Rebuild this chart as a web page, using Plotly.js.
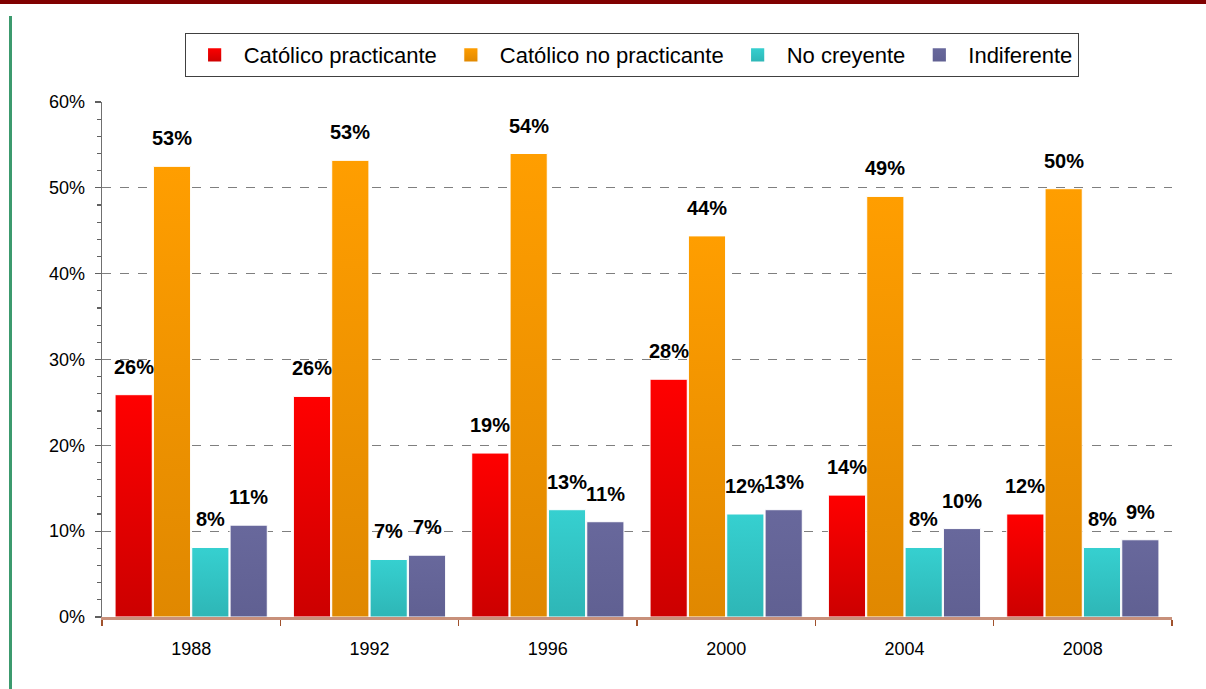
<!DOCTYPE html>
<html>
<head>
<meta charset="utf-8">
<script src="https://cdn.plot.ly/plotly-3.0.1.min.js"></script>
<style>
  html, body { margin: 0; padding: 0; background: #fff; }
  #chart { width: 1206px; height: 689px; }
  #topband { position: absolute; left: 0; top: 0; width: 1206px; height: 4px; background: #800000; z-index: 5; }
  #leftline { position: absolute; left: 9px; top: 16px; width: 3px; height: 673px; background: #3c9a6e; z-index: 5; }
</style>
</head>
<body>
<div id="topband"></div>
<div id="leftline"></div>
<div id="chart"></div>
<script>
// ---- data ----
const years = ['1988', '1992', '1996', '2000', '2004', '2008'];
const seriesNames = ['Católico practicante', 'Católico no practicante', 'No creyente', 'Indiferente'];
const catolicoPracticante   = [25.9, 25.7, 19.1, 27.7, 14.2, 12.0];
const catolicoNoPracticante = [52.5, 53.2, 54.0, 44.4, 49.0, 49.9];
const noCreyente            = [8.1, 6.7, 12.5, 12.0, 8.1, 8.1];
const indiferente           = [10.7, 7.2, 11.1, 12.5, 10.3, 9.0];
const yTickVals = [0, 10, 20, 30, 40, 50, 60];

const seriesValues = [catolicoPracticante, catolicoNoPracticante, noCreyente, indiferente];
const seriesColors = ['#e60000', '#f29200', '#33c6c6', '#65659a'];
// vertical gradient stops (top, bottom) for each series
const gradTop    = ['#ff0000', '#ff9e00', '#36d0d0', '#68689c'];
const gradBottom = ['#cc0000', '#e08800', '#2eb6b6', '#606092'];

// ---- layout constants ----
const W = 1206, H = 689;
const M = {l: 102, r: 34, t: 102, b: 72};
const bargap = 0.14, bargroupgap = 0.03;
const plotW = W - M.l - M.r;
const groupW = plotW / years.length;
const slotW = groupW * (1 - bargap) / seriesValues.length;

const traces = seriesValues.map((vals, i) => ({
  type: 'bar',
  name: seriesNames[i],
  x: years,
  y: vals,
  marker: {color: seriesColors[i], line: {color: '#ffffff', width: 1}},
  hoverinfo: 'x+y+name'
}));

const annotations = [];
seriesValues.forEach((vals, i) => {
  vals.forEach((v, j) => {
    annotations.push({
      x: j, y: v, xref: 'x', yref: 'y',
      text: Math.round(v) + '%',
      showarrow: false,
      xanchor: 'center', yanchor: 'middle',
      xshift: (i - (seriesValues.length - 1) / 2) * slotW,
      yshift: 28,
      font: {family: 'Liberation Sans, Arial, sans-serif', size: 20, color: '#000', weight: 'bold'}
    });
  });
});

const layout = {
  width: W, height: H,
  margin: M,
  paper_bgcolor: '#ffffff',
  plot_bgcolor: '#ffffff',
  barmode: 'group',
  bargap: bargap,
  bargroupgap: bargroupgap,
  font: {family: 'Liberation Sans, Arial, sans-serif', size: 18, color: '#000'},
  showlegend: true,
  legend: {
    orientation: 'h',
    x: 0.495, xanchor: 'center',
    y: 1.134, yanchor: 'top',
    bordercolor: '#404040', borderwidth: 1,
    bgcolor: '#ffffff',
    itemwidth: 48,
    font: {size: 22, color: '#000'},
    traceorder: 'normal'
  },
  xaxis: {
    type: 'category',
    categoryorder: 'array', categoryarray: years,
    range: [-0.5, years.length - 0.5],
    autorange: false,
    showline: true, linecolor: '#c8907a', linewidth: 2.5,
    ticks: 'outside', tickson: 'boundaries', ticklen: 6, tickcolor: '#a0522d', tickwidth: 1.5,
    ticklabelstandoff: 14,
    tickangle: 0,
    showgrid: false,
    tickfont: {size: 18, color: '#000'}
  },
  yaxis: {
    range: [0, 60],
    autorange: false,
    tickmode: 'array',
    tickvals: yTickVals,
    ticktext: yTickVals.map(v => v + '%'),
    showline: true, linecolor: '#707070', linewidth: 1.3,
    ticks: 'outside', ticklen: 6, tickcolor: '#606060', tickwidth: 1.3,
    ticklabelstandoff: 6,
    showgrid: true, gridcolor: '#7f7f7f', gridwidth: 1.3, griddash: 'dash',
    zeroline: false,
    minor: {tickmode: 'linear', tick0: 0, dtick: 2, ticks: 'outside', ticklen: 4, tickcolor: '#606060', tickwidth: 1.3, showgrid: false},
    tickfont: {size: 18, color: '#000'}
  },
  annotations: annotations
};

function applyGradients(gd) {
  const svg = gd.querySelector('svg.main-svg');
  if (!svg) return;
  const NS = 'http://www.w3.org/2000/svg';
  let defs = svg.querySelector('defs');
  if (!defs) { defs = document.createElementNS(NS, 'defs'); svg.insertBefore(defs, svg.firstChild); }
  gradTop.forEach((top, i) => {
    const g = document.createElementNS(NS, 'linearGradient');
    g.setAttribute('id', 'barGrad' + i);
    g.setAttribute('x1', '0'); g.setAttribute('y1', '0');
    g.setAttribute('x2', '0'); g.setAttribute('y2', '1');
    [[0, top], [1, gradBottom[i]]].forEach(([off, col]) => {
      const s = document.createElementNS(NS, 'stop');
      s.setAttribute('offset', String(off));
      s.setAttribute('stop-color', col);
      g.appendChild(s);
    });
    defs.appendChild(g);
  });
  const traceGroups = gd.querySelectorAll('.barlayer .trace.bars');
  traceGroups.forEach((tg, i) => {
    tg.querySelectorAll('path').forEach(p => { p.style.fill = 'url(#barGrad' + i + ')'; });
  });
  const legendItems = gd.querySelectorAll('.legend .traces');
  legendItems.forEach((li, i) => {
    li.querySelectorAll('.legendpoints path').forEach(p => {
      p.style.fill = 'url(#barGrad' + i + ')';
      const t = p.getAttribute('transform') || '';
      p.setAttribute('transform', t + ' scale(1.2)');
    });
  });
}

Plotly.newPlot('chart', traces, layout, {displayModeBar: false, staticPlot: true})
  .then(gd => applyGradients(gd));
</script>
</body>
</html>
